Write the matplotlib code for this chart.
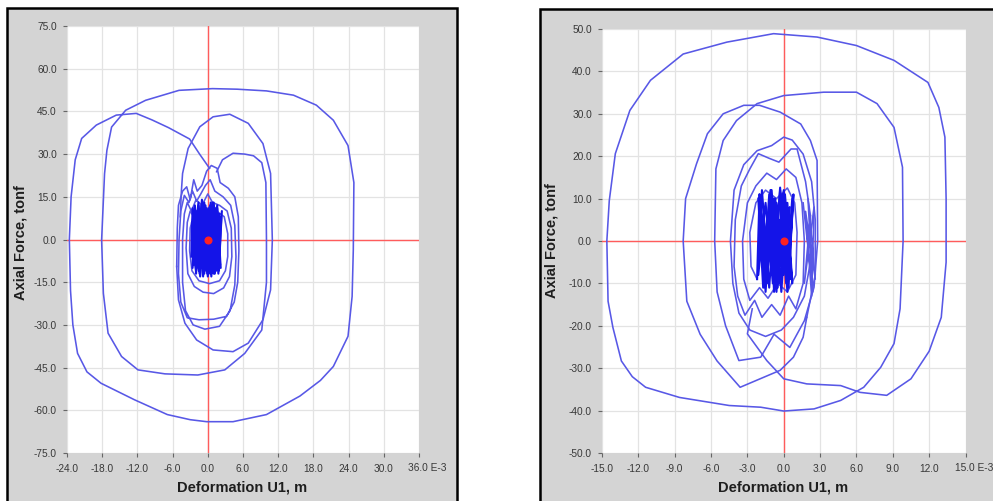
import matplotlib
matplotlib.use('Agg')
import matplotlib.pyplot as plt
from matplotlib.patches import Rectangle

# ---------------- data (x in E-3 m, y in tonf) ----------------
LEFT_XTICKS = [-24.0, -18.0, -12.0, -6.0, 0.0, 6.0, 12.0, 18.0, 24.0, 30.0, 36.0]
LEFT_YTICKS = [-75.0, -60.0, -45.0, -30.0, -15.0, 0.0, 15.0, 30.0, 45.0, 60.0, 75.0]
RIGHT_XTICKS = [-15.0, -12.0, -9.0, -6.0, -3.0, 0.0, 3.0, 6.0, 9.0, 12.0, 15.0]
RIGHT_YTICKS = [-50.0, -40.0, -30.0, -20.0, -10.0, 0.0, 10.0, 20.0, 30.0, 40.0, 50.0]
X_LABEL = "Deformation U1, m"
Y_LABEL = "Axial Force, tonf"
X_UNIT = "E-3"

LEFT_OUTER = [(0.3, 25.0), (-1.4, 30.0), (-3.1, 35.3), (-6.7, 39.3), (-9.5, 42.0), (-12.2, 44.3),
              (-15.6, 43.7), (-19.0, 40.2), (-21.5, 35.5), (-22.6, 28.0), (-23.3, 15.0), (-23.6, 0.0),
              (-23.4, -18.0), (-23.0, -30.0), (-22.2, -40.0), (-20.6, -46.5), (-18.2, -50.5),
              (-12.5, -56.3), (-6.9, -61.5), (-3.0, -63.3), (-0.2, -64.0), (4.3, -64.0), (10.0, -61.5),
              (15.7, -55.0), (19.2, -49.5), (21.4, -44.6), (23.9, -34.0), (24.6, -20.0), (24.8, -3.7),
              (24.9, 20.0), (23.9, 33.0), (21.4, 41.9), (18.5, 47.2), (14.6, 50.7), (10.0, 52.2),
              (5.0, 52.8), (0.8, 53.0), (-4.9, 52.4), (-10.6, 48.9), (-14.0, 45.4), (-16.4, 39.5),
              (-17.2, 31.3), (-17.6, 23.1), (-18.1, -0.2), (-17.8, -18.9), (-17.0, -32.9),
              (-14.7, -41.1), (-11.9, -45.8), (-7.3, -47.2), (-1.7, -47.6), (2.9, -45.8), (6.3, -40.0),
              (9.2, -31.8), (10.0, -15.0), (10.0, 0.0), (9.9, 20.0), (9.2, 27.0), (7.8, 29.4),
              (6.3, 30.0), (4.3, 30.3), (2.5, 28.0), (1.5, 23.8)]

LEFT_LOOP44 = [(-4.7, 8.0), (-4.5, 17.0), (-4.3, 23.2), (-3.35, 32.0), (-1.36, 39.6), (0.9, 43.1),
               (3.75, 44.0), (6.9, 40.8), (9.4, 33.7), (10.7, 23.2), (11.0, -0.2), (10.7, -17.7),
               (9.4, -28.2), (6.9, -36.4), (4.3, -39.4), (0.9, -38.8), (-1.9, -35.3), (-3.9, -29.4),
               (-5.0, -21.2), (-5.3, -9.5)]

LEFT_MID = [(-5.3, -9.5), (-5.2, 4.0), (-5.0, 12.0), (-4.3, 17.0), (-3.6, 18.5), (-3.0, 14.0),
            (-2.4, 21.0), (-1.8, 17.0), (-1.0, 19.0), (-0.2, 24.0), (0.6, 26.0), (1.6, 25.0),
            (2.1, 20.0), (3.5, 18.0), (4.6, 15.0), (5.2, 8.0), (5.3, -4.0), (5.1, -15.0),
            (4.5, -22.0), (3.2, -27.0), (1.0, -28.0), (-1.5, -28.2), (-3.5, -27.5), (-4.6, -22.0),
            (-5.0, -12.0), (-4.9, 0.0), (-4.6, 10.0), (-4.0, 15.5), (-3.2, 13.0), (-2.6, 17.0),
            (-1.9, 13.5), (-1.2, 16.0), (-0.4, 19.0), (0.4, 21.0), (1.2, 17.0), (2.6, 15.0),
            (3.9, 12.0), (4.6, 5.0), (4.8, -6.0), (4.6, -16.0), (3.8, -25.0), (2.0, -30.5),
            (-0.5, -31.5), (-2.5, -30.0), (-3.8, -25.0), (-4.3, -15.0), (-4.3, 0.0), (-4.0, 9.0),
            (-3.5, 13.0), (-2.8, 10.0), (-2.0, 14.0), (-1.0, 12.0), (0.0, 16.0), (0.8, 13.0),
            (2.0, 12.0), (3.3, 10.0), (4.0, 4.0), (4.1, -6.0), (3.7, -13.0), (2.7, -17.0),
            (1.0, -19.0), (-0.8, -18.5), (-2.3, -16.5), (-3.4, -12.0), (-3.7, -3.0), (-3.5, 6.0),
            (-3.0, 10.0), (-2.4, 8.0), (-1.6, 11.0), (-0.6, 9.0), (0.4, 12.0), (1.5, 10.0),
            (2.8, 8.0), (3.4, 2.0), (3.4, -6.0), (3.0, -11.0), (2.0, -14.5), (0.3, -15.5),
            (-1.5, -14.5), (-2.7, -11.0), (-3.1, -4.0), (-3.0, 4.0), (-2.5, 8.0)]

LEFT_CORE = [(-2.5, 8.0), (-2.2, 12.0), (-1.5, -11.0), (-0.6, 13.0), (0.4, -12.0), (1.3, 11.0),
             (2.1, -9.0), (1.6, 12.0), (0.6, -13.0), (-0.4, 10.0), (-1.4, -12.0), (-2.3, 9.0),
             (-1.9, -10.0), (-1.0, 14.0), (0.0, -13.0), (0.9, 12.0), (1.9, -11.0), (2.3, 8.0),
             (1.2, -12.0), (0.2, 11.0), (-0.8, -13.0), (-1.8, 10.0), (-2.4, -9.0), (-1.6, 12.0),
             (-0.5, -11.0), (0.5, 13.0), (1.5, -10.0), (2.0, 9.0), (1.0, -12.0), (-0.2, 11.0),
             (-1.2, -10.0), (-2.0, 8.0), (-1.3, -9.0), (-0.3, 10.0), (0.7, -11.0), (1.7, 9.0),
             (0.8, -8.0), (-0.6, 10.0), (-1.7, -9.0), (-0.9, 7.0), (0.3, -8.0), (1.2, 6.0),
             (0.0, -6.0), (-1.0, 5.0), (0.5, -3.0), (0.0, 0.0)]

LEFT_CORE2 = [(-2.8, -6.0), (-2.6, 11.0), (-2.0, -12.0), (-1.1, 12.0), (-0.2, -10.0), (0.8, 13.0),
              (1.8, -12.0), (2.4, 10.0), (1.4, -11.0), (0.4, 12.0), (-0.6, -12.0), (-1.6, 13.0),
              (-2.6, -10.0), (-2.2, 11.0), (-1.3, -13.0), (-0.4, 12.0), (0.6, -11.0), (1.6, 11.0),
              (2.2, -10.0), (1.0, 13.0), (-0.1, -12.0), (-1.0, 11.0), (-2.0, -11.0), (-2.7, 6.0),
              (-2.4, -8.0), (-1.5, 9.0), (-0.7, -9.0), (0.2, 8.0), (1.1, -7.0), (1.9, 6.0),
              (0.6, -5.0), (-0.8, 4.0), (-1.8, -3.0), (0.0, 0.0)]

RIGHT_OUTER = [(-2.6, -16.0), (-3.0, -21.9), (-1.4, -28.2), (0.0, -32.5), (1.9, -33.7), (4.7, -34.1),
               (6.3, -35.7), (8.5, -36.4), (10.5, -32.5), (12.0, -26.0), (13.0, -18.0), (13.4, -5.0),
               (13.4, 10.0), (13.3, 24.5), (12.8, 31.5), (11.9, 37.4), (9.1, 42.6), (6.0, 46.1),
               (2.75, 48.1), (-0.84, 48.9), (-4.7, 46.9), (-8.3, 44.1), (-11.0, 37.9), (-12.7, 30.8),
               (-13.9, 20.6), (-14.4, 9.5), (-14.6, 0.0), (-14.5, -14.2), (-14.1, -20.4),
               (-13.4, -28.3), (-12.5, -32.0), (-11.4, -34.5), (-8.6, -36.9), (-4.5, -38.8),
               (-1.9, -39.2), (0.0, -40.1), (2.5, -39.6), (4.7, -37.6), (6.6, -34.5), (8.0, -29.8),
               (9.1, -24.2), (9.6, -16.0), (9.85, 0.0), (9.8, 17.4), (9.1, 26.8), (7.7, 32.4),
               (6.0, 35.1), (3.3, 35.1), (0.0, 34.3), (-2.2, 32.4), (-3.9, 28.4), (-5.0, 23.7),
               (-5.6, 17.0), (-5.7, 0.0), (-5.5, -12.0), (-4.8, -20.0), (-3.7, -28.2), (-1.9, -27.4),
               (-0.8, -22.0)]

RIGHT_LOOP_B = [(-0.8, -22.0), (0.5, -25.1), (1.7, -18.8), (2.5, -10.9), (2.8, 0.0), (2.75, 19.0),
                (2.2, 23.7), (1.4, 27.6), (-0.3, 30.4), (-2.0, 32.0), (-3.3, 32.0), (-5.0, 30.0),
                (-6.3, 25.3), (-7.2, 18.2), (-8.1, 10.0), (-8.3, 0.0), (-8.0, -14.2), (-6.9, -22.0),
                (-5.5, -28.3), (-3.6, -34.5), (-0.3, -30.5), (0.8, -27.4), (1.6, -22.7), (1.9, -18.0)]

RIGHT_MID = [(1.9, -18.0), (2.6, -8.0), (2.6, 5.0), (2.3, 14.0), (1.6, 20.5), (0.7, 23.8), (0.0, 24.5),
             (-1.0, 22.5), (-2.2, 21.3), (-3.3, 18.0), (-4.1, 12.0), (-4.4, 0.0), (-4.2, -10.0),
             (-3.7, -17.0), (-2.8, -21.0), (-1.5, -22.5), (-0.2, -21.0), (0.8, -18.0), (1.7, -13.0),
             (2.2, -5.0), (2.2, 6.0), (1.8, 14.0), (1.1, 21.7), (0.6, 21.7), (-0.4, 18.6),
             (-1.2, 19.5), (-2.1, 20.6), (-2.8, 17.0), (-3.5, 13.0), (-4.0, 5.0), (-4.1, -6.0),
             (-3.8, -13.0), (-3.2, -17.5), (-2.4, -14.0), (-1.8, -18.0), (-1.0, -15.0), (-0.3, -17.5),
             (0.4, -13.0), (1.0, -16.0), (1.6, -10.0), (1.7, 0.0), (1.5, 9.0), (1.0, 15.0), (0.2, 17.0),
             (-0.6, 14.5), (-1.4, 16.0), (-2.3, 13.0), (-3.0, 9.0), (-3.4, 0.0), (-3.3, -9.0),
             (-2.8, -14.0), (-2.0, -11.0), (-1.3, -13.5), (-0.5, -10.0), (0.3, -12.0), (1.0, -8.0),
             (1.1, 2.0), (0.9, 9.0), (0.3, 12.5), (-0.6, 10.0), (-1.5, 12.0), (-2.3, 9.0), (-2.8, 2.0),
             (-2.7, -6.0), (-2.2, -9.0)]

RIGHT_SIDE = [(1.6, 9.0), (2.4, -12.0), (2.0, 10.0), (2.6, -9.0), (1.8, 7.0), (2.3, -13.0),
              (2.5, 8.0), (1.7, -10.0), (2.2, 6.0)]

RIGHT_CORE = [(-2.2, -9.0), (-2.0, 11.0), (-1.6, -10.0), (-1.1, 12.0), (-0.6, -11.0), (-0.1, 10.0),
              (0.4, -9.0), (0.8, 11.0), (0.3, -12.0), (-0.3, 12.6), (-0.9, -10.0), (-1.5, 9.0),
              (-2.1, -8.0), (-1.8, 12.0), (-1.2, -11.0), (-0.7, 10.0), (-0.2, -12.0), (0.3, 9.0),
              (0.7, -10.0), (0.1, 11.0), (-0.5, -9.0), (-1.0, 12.0), (-1.6, -11.0), (-2.0, 8.0),
              (-1.4, -7.0), (-0.8, 10.0), (-0.3, -10.0), (0.5, 8.0), (0.0, -8.0), (-0.6, 9.0),
              (-1.3, -6.0), (-1.9, 7.0), (-1.0, -5.0), (-0.4, 5.0), (0.2, -2.0), (0.0, 0.0)]

RIGHT_CORE2 = [(-2.1, 10.0), (-1.7, -11.0), (-1.2, 11.0), (-0.8, -12.0), (-0.3, 12.0), (0.2, -10.0),
               (0.7, 10.0), (0.4, -11.0), (-0.1, 11.0), (-0.6, -12.0), (-1.1, 10.0), (-1.6, -9.0),
               (-2.0, 11.0), (-1.5, -12.0), (-1.0, 9.0), (-0.5, -11.0), (0.0, 12.0), (0.6, -9.0),
               (0.2, 8.0), (-0.4, -8.0), (-0.9, 10.0), (-1.4, -10.0), (-1.9, 9.0), (-2.1, -6.0),
               (-1.2, 7.0), (-0.2, -6.0), (0.3, 5.0), (-0.6, -4.0), (0.0, 0.0)]

# ---------------- figure ----------------
W, H = 993, 501
plt.rcParams['font.family'] = ['Liberation Sans', 'DejaVu Sans']
fig = plt.figure(figsize=(W / 100, H / 100), dpi=100)
fig.patch.set_facecolor('white')


def frac_rect(x0, y0, x1, y1):
    return [x0 / W, 1 - y1 / H, (x1 - x0) / W, (y1 - y0) / H]


# frames (drawn behind the axes)
for (x0, y0, x1, y1) in [(7, 8, 457, 515), (540, 9, 1010, 515)]:
    r = frac_rect(x0, y0, x1, y1)
    fig.patches.append(Rectangle((r[0], r[1]), r[2], r[3], transform=fig.transFigure,
                                 facecolor='#d4d4d4', edgecolor='black', lw=1.8, zorder=-5))

LINE_C = '#5858e6'
CORE_C = '#1414e8'
TICK_C = '#383838'
TICK_FS = 7.3


def panel(rect, xticks, yticks, segments, cores):
    ax = fig.add_axes(rect, zorder=2)
    ax.set_facecolor('white')
    ax.set_xlim(xticks[0], xticks[-1])
    ax.set_ylim(yticks[0], yticks[-1])
    ax.set_xticks(xticks)
    ax.set_yticks(yticks)
    xl = [f'{v:.1f}' for v in xticks]
    xl[-1] = ''  # last label is written together with the unit suffix
    ax.set_xticklabels(xl)
    ax.set_yticklabels([f'{v:.1f}' for v in yticks])
    ax.grid(True, color='#e3e3e3', lw=0.9)
    ax.set_axisbelow(True)
    for s in ax.spines.values():
        s.set_visible(False)
    ax.tick_params(axis='both', length=3, width=0.8, color='#666666', labelsize=TICK_FS,
                   labelcolor=TICK_C)
    ax.tick_params(axis='x', pad=5)
    ax.tick_params(axis='y', pad=4.3)
    ax.axhline(0, color='#ff5c5c', lw=1.0, zorder=2)
    ax.axvline(0, color='#ff5c5c', lw=1.0, zorder=2)
    for seg in segments:
        ax.plot([p[0] for p in seg], [p[1] for p in seg], color=LINE_C, lw=1.15, zorder=3)
    for seg in cores:
        ax.plot([p[0] for p in seg], [p[1] for p in seg], color=CORE_C, lw=1.5, zorder=3)
    ax.plot([0], [0], 'o', color='#ff2222', ms=4.8, zorder=5)
    return ax


axL = panel(frac_rect(67, 26, 419, 453), LEFT_XTICKS, LEFT_YTICKS,
            [LEFT_OUTER, LEFT_LOOP44, LEFT_MID], [LEFT_CORE, LEFT_CORE2])
axR = panel(frac_rect(602, 29, 965.5, 453), RIGHT_XTICKS, RIGHT_YTICKS,
            [RIGHT_OUTER, RIGHT_LOOP_B, RIGHT_MID, RIGHT_SIDE], [RIGHT_CORE, RIGHT_CORE2])

# last x tick label with the unit suffix
fig.text(408 / W, 1 - 468 / H, f'{LEFT_XTICKS[-1]:.1f} {X_UNIT}', fontsize=TICK_FS, color=TICK_C,
         ha='left', va='center')
fig.text(955 / W, 1 - 468 / H, f'{RIGHT_XTICKS[-1]:.1f} {X_UNIT}', fontsize=TICK_FS, color=TICK_C,
         ha='left', va='center')

# axis labels
for cx, cy in [(242, 488), (783, 488)]:
    fig.text(cx / W, 1 - cy / H, X_LABEL, fontsize=10.5, fontweight='bold', color='#1e1e1e',
             ha='center', va='center')
for cx, cy in [(21, 243), (552, 241)]:
    fig.text(cx / W, 1 - cy / H, Y_LABEL, fontsize=10.5, fontweight='bold', color='#1e1e1e',
             ha='center', va='center', rotation=90)

fig.savefig('out.png', dpi=100)
